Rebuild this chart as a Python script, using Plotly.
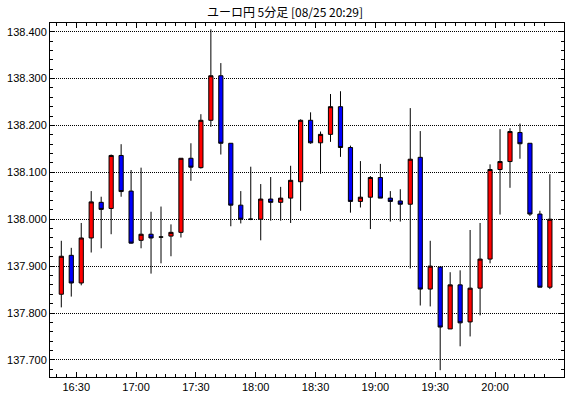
import plotly.graph_objects as go

times = [
    "2023-08-25 16:20", "2023-08-25 16:25", "2023-08-25 16:30", "2023-08-25 16:35", "2023-08-25 16:40",
    "2023-08-25 16:45", "2023-08-25 16:50", "2023-08-25 16:55", "2023-08-25 17:00", "2023-08-25 17:05",
    "2023-08-25 17:10", "2023-08-25 17:15", "2023-08-25 17:20", "2023-08-25 17:25", "2023-08-25 17:30",
    "2023-08-25 17:35", "2023-08-25 17:40", "2023-08-25 17:45", "2023-08-25 17:50", "2023-08-25 17:55",
    "2023-08-25 18:00", "2023-08-25 18:05", "2023-08-25 18:10", "2023-08-25 18:15", "2023-08-25 18:20",
    "2023-08-25 18:25", "2023-08-25 18:30", "2023-08-25 18:35", "2023-08-25 18:40", "2023-08-25 18:45",
    "2023-08-25 18:50", "2023-08-25 18:55", "2023-08-25 19:00", "2023-08-25 19:05", "2023-08-25 19:10",
    "2023-08-25 19:15", "2023-08-25 19:20", "2023-08-25 19:25", "2023-08-25 19:30", "2023-08-25 19:35",
    "2023-08-25 19:40", "2023-08-25 19:45", "2023-08-25 19:50", "2023-08-25 19:55", "2023-08-25 20:00",
    "2023-08-25 20:05", "2023-08-25 20:10", "2023-08-25 20:15", "2023-08-25 20:20", "2023-08-25 20:25",
]

opens = [137.840, 137.923, 137.864, 137.960, 138.036, 138.023, 138.136, 138.060, 137.955, 137.968,
         137.962, 137.964, 137.972, 138.130, 138.110, 138.211, 138.306, 138.162, 138.030, 138.000,
         138.000, 138.043, 138.036, 138.045, 138.080, 138.211, 138.163, 138.181, 138.240, 138.153,
         138.038, 138.047, 138.089, 138.045, 138.039, 138.032, 138.132, 137.851, 137.898, 137.766,
         137.860, 137.781, 137.853, 137.915, 138.106, 138.123, 138.185, 138.162, 138.011, 137.855]
highs = [137.954, 137.939, 137.992, 138.060, 138.048, 138.138, 138.160, 138.105, 138.110, 138.016,
         138.027, 137.989, 138.130, 138.162, 138.224, 138.405, 138.333, 138.162, 138.060, 138.112,
         138.075, 138.090, 138.069, 138.114, 138.213, 138.228, 138.187, 138.267, 138.273, 138.157,
         138.124, 138.092, 138.118, 138.060, 138.064, 138.237, 138.188, 137.954, 137.898, 137.887,
         137.891, 137.977, 137.992, 138.117, 138.192, 138.194, 138.204, 138.162, 138.018, 138.096]
lows = [137.812, 137.835, 137.859, 137.929, 137.938, 137.968, 138.048, 137.948, 137.938, 137.884,
        137.906, 137.921, 137.961, 138.082, 138.108, 138.197, 138.138, 137.985, 137.991, 137.998,
        137.955, 137.997, 137.997, 137.992, 138.018, 138.161, 138.097, 138.165, 138.133, 138.014,
        138.025, 137.979, 138.045, 137.995, 137.995, 137.895, 137.816, 137.814, 137.678, 137.766,
        137.729, 137.750, 137.795, 137.906, 138.010, 138.067, 138.129, 138.007, 137.855, 137.851]
closes = [137.921, 137.864, 137.960, 138.037, 138.021, 138.136, 138.059, 137.949, 137.968, 137.960,
          137.962, 137.972, 138.130, 138.111, 138.211, 138.306, 138.162, 138.030, 138.000, 138.000,
          138.043, 138.036, 138.045, 138.083, 138.211, 138.163, 138.181, 138.240, 138.153, 138.038,
          138.047, 138.089, 138.045, 138.038, 138.032, 138.128, 137.851, 137.900, 137.770, 137.860,
          137.779, 137.853, 137.915, 138.106, 138.123, 138.187, 138.161, 138.011, 137.855, 138.000]

x_tick_vals = ["2023-08-25 16:30", "2023-08-25 17:00", "2023-08-25 17:30", "2023-08-25 18:00",
               "2023-08-25 18:30", "2023-08-25 19:00", "2023-08-25 19:30", "2023-08-25 20:00"]
x_tick_text = ["16:30", "17:00", "17:30", "18:00", "18:30", "19:00", "19:30", "20:00"]

title_text = "ユーロ円 5分足 [08/25 20:29]"

fig = go.Figure(go.Candlestick(
    x=times, open=opens, high=highs, low=lows, close=closes,
    xperiod=300000, xperiodalignment="middle",
    increasing=dict(line=dict(color="black", width=1), fillcolor="#ff0000"),
    decreasing=dict(line=dict(color="black", width=1), fillcolor="#0000ff"),
    whiskerwidth=0,
    showlegend=False,
    hoverinfo="skip",
))

tickfont = dict(family="Liberation Sans, Arial, sans-serif", size=11, color="black")

fig.update_layout(
    width=570, height=398,
    margin=dict(l=50, r=6, t=23, b=21),
    paper_bgcolor="white", plot_bgcolor="white",
    boxgap=0.4,
    title=dict(text=title_text, x=0.5, xanchor="center", y=0.968, yanchor="middle",
               font=dict(family="Noto Sans CJK JP", size=12, color="black")),
    xaxis=dict(
        type="date",
        range=["2023-08-25 16:16:50", "2023-08-25 20:34:35"],
        rangeslider=dict(visible=False),
        tickmode="array", tickvals=x_tick_vals, ticktext=x_tick_text,
        ticks="inside", ticklen=5, tickwidth=1, tickcolor="black",
        minor=dict(tickmode="array", tickvals=times, ticks="inside", ticklen=3,
                   tickwidth=1, tickcolor="black", showgrid=False),
        showline=True, linecolor="black", linewidth=1, mirror="allticks",
        showgrid=False, zeroline=False, automargin=False,
        tickfont=tickfont,
    ),
    yaxis=dict(
        range=[137.6635, 138.4185],
        tick0=137.7, dtick=0.1, tickformat=".3f",
        ticks="inside", ticklen=5, tickwidth=1, tickcolor="black",
        minor=dict(dtick=0.02, ticks="inside", ticklen=3, tickwidth=1, tickcolor="black", showgrid=False),
        showline=True, linecolor="black", linewidth=1, mirror="allticks",
        showgrid=True, gridcolor="black", gridwidth=1, griddash="1px,1px",
        zeroline=False, automargin=False,
        tickfont=tickfont,
    ),
)

fig.write_html("out.html", config={"displayModeBar": False, "staticPlot": True},
               post_script="document.body.style.margin='0px';document.body.style.overflow='hidden';")
